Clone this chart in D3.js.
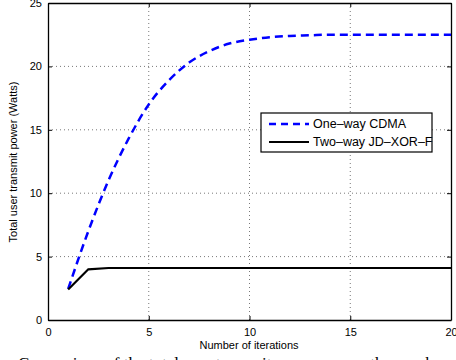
<!DOCTYPE html>
<meta charset="utf-8">
<script src="https://d3js.org/d3.v7.min.js"></script>
<style>
  body { margin: 0; background: #fff; }
  text { font-family: "Liberation Sans", Arial, sans-serif; }
</style>
<div id="chart"></div>
<script>
// data
var iterations = d3.range(1, 21);
var oneWayCDMA = [2.45, 7.0, 11.0, 14.3, 17.0, 18.9, 20.3, 21.2, 21.8, 22.1,
                  22.3, 22.4, 22.45, 22.5, 22.5, 22.5, 22.5, 22.5, 22.5, 22.5];
var twoWayJD = [2.4, 4.0, 4.1, 4.1, 4.1, 4.1, 4.1, 4.1, 4.1, 4.1,
                4.1, 4.1, 4.1, 4.1, 4.1, 4.1, 4.1, 4.1, 4.1, 4.1];
var xTicks = [0, 5, 10, 15, 20];
var yTicks = [0, 5, 10, 15, 20, 25];
var seriesNames = ["One\u2013way CDMA", "Two\u2013way JD\u2013XOR\u2013F"];

var margin = { top: 3, left: 48 },
    width = 403,
    height = 317;

var svg = d3.select("#chart").append("svg")
    .attr("width", 456).attr("height", 360);

var g = svg.append("g")
    .attr("transform", "translate(" + margin.left + "," + margin.top + ")");

var x = d3.scaleLinear().domain([0, 20]).range([0, width]);
var y = d3.scaleLinear().domain([0, 25]).range([height, 0]);

// grid
g.append("g").selectAll("line").data(xTicks.slice(1, -1)).enter().append("line")
    .attr("x1", d => x(d)).attr("x2", d => x(d)).attr("y1", 0).attr("y2", height)
    .attr("stroke", "#555").attr("stroke-width", 0.8).attr("stroke-dasharray", "1,3");
g.append("g").selectAll("line").data(yTicks.slice(1, -1)).enter().append("line")
    .attr("y1", d => y(d)).attr("y2", d => y(d)).attr("x1", 0).attr("x2", width)
    .attr("stroke", "#555").attr("stroke-width", 0.8).attr("stroke-dasharray", "1,3");

// axes (box on, ticks inward)
var xAxis = g.append("g").attr("transform", "translate(0," + height + ")")
    .call(d3.axisBottom(x).tickValues(xTicks).tickSizeInner(-4).tickSizeOuter(0).tickPadding(8));
var yAxis = g.append("g")
    .call(d3.axisLeft(y).tickValues(yTicks).tickSizeInner(-4).tickSizeOuter(0).tickPadding(6));
var xTop = g.append("g")
    .call(d3.axisTop(x).tickValues(xTicks).tickSizeInner(-4).tickSizeOuter(0).tickFormat(""));
var yRight = g.append("g").attr("transform", "translate(" + width + ",0)")
    .call(d3.axisRight(y).tickValues(yTicks).tickSizeInner(-4).tickSizeOuter(0).tickFormat(""));
[xAxis, yAxis, xTop, yRight].forEach(function (a) {
  a.select(".domain").attr("stroke", "#000").attr("stroke-width", 1.3);
  a.selectAll(".tick line").attr("stroke", "#000");
  a.selectAll("text").attr("font-size", 11).attr("fill", "#000")
    .style("font-family", "'Liberation Sans', Arial, sans-serif");
});

// lines
var smooth = d3.line()
    .x((d, i) => x(iterations[i]))
    .y(d => y(d))
    .curve(d3.curveMonotoneX);
var straight = d3.line()
    .x((d, i) => x(iterations[i]))
    .y(d => y(d));

g.append("path").datum(oneWayCDMA)
    .attr("d", smooth).attr("fill", "none")
    .attr("stroke", "#0000ff").attr("stroke-width", 2.5)
    .attr("stroke-dasharray", "8,5");
g.append("path").datum(twoWayJD)
    .attr("d", straight).attr("fill", "none")
    .attr("stroke", "#000").attr("stroke-width", 2.2);

// legend
var leg = svg.append("g").attr("transform", "translate(261,113)");
leg.append("rect").attr("width", 171).attr("height", 39).attr("fill", "#fff");
leg.append("line").attr("x1", 8).attr("x2", 48).attr("y1", 11).attr("y2", 11)
    .attr("stroke", "#0000ff").attr("stroke-width", 2.5).attr("stroke-dasharray", "7,5");
leg.append("line").attr("x1", 8).attr("x2", 48).attr("y1", 29).attr("y2", 29)
    .attr("stroke", "#000").attr("stroke-width", 2.2);
leg.selectAll("text.lbl").data(seriesNames).enter().append("text")
    .attr("class", "lbl")
    .attr("x", 52).attr("y", (d, i) => 15 + i * 18)
    .attr("font-size", 12.5).text(d => d);
leg.append("rect").attr("width", 171).attr("height", 39)
    .attr("fill", "none").attr("stroke", "#000").attr("stroke-width", 1.2);

// axis labels
svg.append("text").attr("x", 249).attr("y", 349)
    .attr("text-anchor", "middle").attr("font-size", 11)
    .text("Number of iterations");
svg.append("text")
    .attr("transform", "translate(17,162) rotate(-90)")
    .attr("text-anchor", "middle").attr("font-size", 11)
    .text("Total user transmit power (Watts)");

// caption (cut off at the bottom of the frame)
svg.append("text").attr("x", 18).attr("y", 369)
    .attr("font-size", 17)
    .style("font-family", "'Liberation Serif', 'Times New Roman', serif")
    .text("Comparison of the total user transmit power versus the number");
</script>
